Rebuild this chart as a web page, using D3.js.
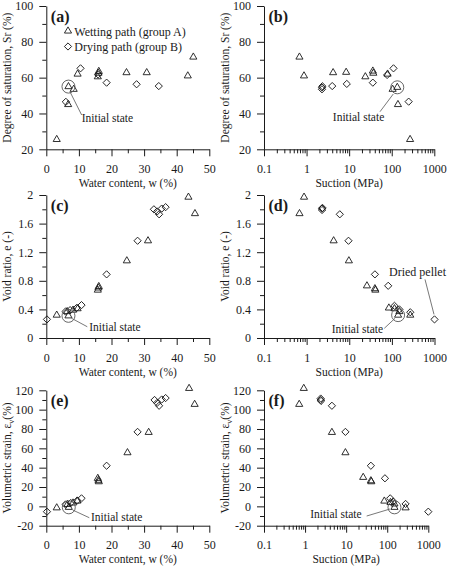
<!DOCTYPE html>
<html>
<head>
<meta charset="utf-8">
<script src="https://cdn.jsdelivr.net/npm/d3@7"></script>
<style>
  body { margin: 0; background: #fff; }
  svg { font-family: "Liberation Serif", "Times New Roman", serif; }
</style>
</head>
<body>
<div id="chart"></div>
<script>
// tick labels
const wTicks = [0, 10, 20, 30, 40, 50];
const suctionTicks = [0.1, 1, 10, 100, 1000];
const srTicks = [20, 40, 60, 80, 100];
const eTicks = [0, 0.4, 0.8, 1.2, 1.6, 2];
const evTicks = [-20, 0, 20, 40, 60, 80, 100, 120];

// (a) water content vs degree of saturation
const aWet = [[3.2, 25.5], [6.7, 45], [6.8, 55], [8.4, 53.5], [9.6, 62], [15.8, 60.5], [16, 62.5], [16.1, 63.5], [24.6, 62.8], [30.8, 62.8], [43.4, 61], [45.1, 71.5]];
const aDry = [[6, 46.5], [10.5, 65.2], [15.9, 61.8], [18.5, 57.2], [27.7, 56.3], [34.5, 55.3]];

// (b) suction vs degree of saturation
const bWet = [[0.68, 71.5], [0.87, 61], [4.2, 62.8], [8.5, 63], [24, 60.5], [36, 63.7], [37, 62.5], [80, 62], [105, 53.5], [135, 54.6], [140, 45], [270, 25.5]];
const bDry = [[2.3, 53.5], [2.3, 54.5], [2.35, 55.2], [4.0, 55.3], [8.8, 56.5], [36, 57.2], [78, 61.5], [110, 65.2], [250, 46.6]];

// (c) water content vs void ratio
const cWet = [[3.2, 0.32], [6.4, 0.37], [6.8, 0.31], [8.2, 0.39], [9.6, 0.41], [15.8, 0.67], [16, 0.70], [16.1, 0.72], [24.7, 1.08], [31.2, 1.36], [43.6, 1.97], [45.6, 1.74]];
const cDry = [[0.2, 0.26], [5.9, 0.37], [7.3, 0.39], [9.3, 0.42], [10.8, 0.46], [18.5, 0.89], [28, 1.36], [33, 1.80], [34, 1.77], [34.6, 1.73], [35.4, 1.81], [36.6, 1.83]];

// (d) suction vs void ratio
const dWet = [[0.68, 1.74], [0.87, 1.97], [4.3, 1.36], [9.8, 1.08], [26, 0.73], [40, 0.69], [41, 0.67], [85, 0.42], [115, 0.41], [150, 0.37], [140, 0.32], [270, 0.32]];
const dDry = [[2.3, 1.79], [2.3, 1.81], [2.35, 1.82], [6.0, 1.73], [9.6, 1.36], [40, 0.89], [82, 0.73], [115, 0.45], [150, 0.40], [270, 0.36], [1000, 0.26]];

// (e) water content vs volumetric strain
const eWet = [[3.2, -1.5], [6.5, 2], [6.9, -1], [8.2, 3.5], [9.5, 5.5], [15.8, 29], [16, 27], [16.1, 25.5], [24.9, 55.5], [31.4, 76.5], [43.8, 122], [45.5, 105.5]];
const eDry = [[0.2, -5.5], [5.9, 2], [7.5, 3.5], [9.5, 6], [10.8, 8.3], [18.5, 42], [28, 77], [33.2, 110], [34, 107], [34.6, 104], [35.4, 110.5], [36.6, 112]];

// (f) suction vs volumetric strain
const fWet = [[0.72, 105.5], [0.93, 122], [4.5, 76.5], [9.6, 55.5], [26, 30], [40, 26.5], [41, 25.5], [85, 5.5], [120, 4], [150, 2.5], [150, -1], [280, -1.5]];
const fDry = [[2.4, 110], [2.4, 111.5], [2.45, 109], [4.5, 104], [9.6, 77], [40, 42], [88, 29], [118, 8.3], [140, 5], [280, 2.5], [1000, -5.5]];

// initial state for each panel, a to f
const initialPoints = [[6.8, 55], [135, 54.6], [6.8, 0.31], [140, 0.32], [6.9, -1], [150, -1]];
const driedPellet = [1000, 0.26];

const ink = "#1a1a1a";
const svg = d3.select("#chart").append("svg")
  .attr("width", 451)
  .attr("height", 566);

const linMinor = (dom, step) => d3.range(dom[0], dom[1] + 1e-9, step);
const logMinor = [];
[0.1, 1, 10, 100].forEach(d => { for (let k = 2; k <= 9; k++) logMinor.push(d * k); });

const panels = [
  { letter: "(a)", left: 46.3, top: 6, w: 163, h: 143.3, log: false, xDom: [0, 50], xTicks: wTicks, xMinor: linMinor([5, 45], 10),
    yDom: [20, 100], yTicks: srTicks, yMinor: linMinor([30, 90], 20), wet: aWet, dry: aDry,
    xLabel: "Water content, w (%)", yLabel: "sr",
    note: { line: [1.5, 5.1, 13.2, 28.4], text: [13.2, 35.1], anchor: "start" } },
  { letter: "(b)", left: 264, top: 6, w: 170.3, h: 143.3, log: true, xDom: [0.1, 1000], xTicks: suctionTicks, xMinor: logMinor,
    yDom: [20, 100], yTicks: srTicks, yMinor: linMinor([30, 90], 20), wet: bWet, dry: bDry,
    xLabel: "Suction (MPa)", yLabel: "sr",
    note: { line: [-4, 6.7, -17.3, 24.4], text: [-13, 33.4], anchor: "end" } },
  { letter: "(c)", left: 46.3, top: 195, w: 163, h: 143, log: false, xDom: [0, 50], xTicks: wTicks, xMinor: linMinor([5, 45], 10),
    yDom: [0, 2], yTicks: eTicks, yMinor: linMinor([0.2, 1.8], 0.4), wet: cWet, dry: cDry,
    xLabel: "Water content, w (%)", yLabel: "e",
    note: { line: [3.2, 2.5, 18.8, 10.9], text: [20.8, 14.9], anchor: "start" } },
  { letter: "(d)", left: 264, top: 195, w: 170.5, h: 143, log: true, xDom: [0.1, 1000], xTicks: suctionTicks, xMinor: logMinor,
    yDom: [0, 2], yTicks: eTicks, yMinor: linMinor([0.2, 1.8], 0.4), wet: dWet, dry: dDry,
    xLabel: "Suction (MPa)", yLabel: "e",
    note: { line: [-3.1, 3.2, -13.8, 13.2], text: [-15, 18.2], anchor: "end" } },
  { letter: "(e)", left: 46.3, top: 390.3, w: 163, h: 135.4, log: false, xDom: [0, 50], xTicks: wTicks, xMinor: linMinor([5, 45], 10),
    yDom: [-20, 120], yTicks: evTicks, yMinor: linMinor([-10, 110], 20), wet: eWet, dry: eDry,
    xLabel: "Water content, w (%)", yLabel: "ev",
    note: { line: [3.9, 2.7, 20.5, 10.4], text: [22.2, 13.7], anchor: "start" } },
  { letter: "(f)", left: 264, top: 390.3, w: 164.3, h: 135.4, log: true, xDom: [0.1, 1000], xTicks: suctionTicks, xMinor: logMinor,
    yDom: [-20, 120], yTicks: evTicks, yMinor: linMinor([-10, 110], 20), wet: fWet, dry: fDry,
    xLabel: "Suction (MPa)", yLabel: "ev",
    note: { line: [-4.5, 1.7, -27.8, 8.7], text: [-32.8, 10.4], anchor: "end" } }
];

const triangle = d3.symbol(d3.symbolTriangle, 22);
const diamond = d3.symbol(d3.symbolSquare, 26);

function styleAxis(a) {
  a.attr("font-family", null).attr("font-size", 12);
  a.selectAll("path, line").attr("stroke", ink);
  a.selectAll("text").attr("fill", ink);
}

function drawPanel(p, i) {
  const g = svg.append("g").attr("transform", `translate(${p.left},${p.top})`);
  const x = (p.log ? d3.scaleLog() : d3.scaleLinear()).domain(p.xDom).range([0, p.w]);
  const y = d3.scaleLinear().domain(p.yDom).range([p.h, 0]);

  // minor ticks
  g.append("g").attr("transform", `translate(0,${p.h})`)
    .call(d3.axisBottom(x).tickValues(p.xMinor).tickSize(4).tickFormat(""))
    .call(a => a.select(".domain").remove())
    .call(styleAxis);
  g.append("g")
    .call(d3.axisLeft(y).tickValues(p.yMinor).tickSize(4).tickFormat(""))
    .call(a => a.select(".domain").remove())
    .call(styleAxis);

  g.append("g").attr("transform", `translate(0,${p.h})`)
    .call(d3.axisBottom(x).tickValues(p.xTicks).tickSize(7).tickSizeOuter(0).tickPadding(8).tickFormat(d => d))
    .call(styleAxis);
  g.append("g")
    .call(d3.axisLeft(y).tickValues(p.yTicks).tickSize(7).tickSizeOuter(0).tickPadding(6).tickFormat(d => d))
    .call(styleAxis);

  // axis titles
  g.append("text")
    .attr("x", p.w / 2)
    .attr("y", p.h + 37.5)
    .attr("text-anchor", "middle")
    .attr("font-size", 11.5)
    .attr("fill", ink)
    .text(p.xLabel);

  const yl = g.append("text")
    .attr("transform", `translate(-35.5,${p.h / 2}) rotate(-90)`)
    .attr("text-anchor", "middle")
    .attr("font-size", 11.5)
    .attr("fill", ink);
  if (p.yLabel === "sr") {
    yl.text("Degree of saturation, Sr (%)");
  } else if (p.yLabel === "e") {
    yl.text("Void ratio, e (-)");
  } else {
    yl.append("tspan").text("Volumetric strain, ε");
    yl.append("tspan").attr("font-size", 8).attr("dy", 3).text("v");
    yl.append("tspan").attr("dy", -3).text("(%)");
  }

  g.append("text")
    .attr("x", 4.5)
    .attr("y", 15.5)
    .attr("font-size", 16)
    .attr("font-weight", "bold")
    .attr("fill", ink)
    .text(p.letter);

  // markers
  g.selectAll(".dry").data(p.dry).join("path")
    .attr("class", "dry")
    .attr("transform", d => `translate(${x(d[0])},${y(d[1])}) rotate(45)`)
    .attr("d", diamond)
    .attr("fill", "none")
    .attr("stroke", ink)
    .attr("stroke-width", 0.9);
  g.selectAll(".wet").data(p.wet).join("path")
    .attr("class", "wet")
    .attr("transform", d => `translate(${x(d[0])},${y(d[1])})`)
    .attr("d", triangle)
    .attr("fill", "none")
    .attr("stroke", ink)
    .attr("stroke-width", 0.9);

  // initial state callout
  const px = x(initialPoints[i][0]), py = y(initialPoints[i][1]);
  g.append("circle")
    .attr("cx", px).attr("cy", py).attr("r", 6.5)
    .attr("fill", "none").attr("stroke", "#555").attr("stroke-width", 0.9);
  const n = p.note;
  g.append("line")
    .attr("x1", px + n.line[0]).attr("y1", py + n.line[1])
    .attr("x2", px + n.line[2]).attr("y2", py + n.line[3])
    .attr("stroke", "#555").attr("stroke-width", 0.8);
  g.append("text")
    .attr("x", px + n.text[0]).attr("y", py + n.text[1])
    .attr("text-anchor", n.anchor)
    .attr("font-size", 11.5)
    .attr("fill", ink)
    .text("Initial state");

  if (p.letter === "(a)") {
    const leg = g.append("g");
    [["Wetting path (group A)", triangle, 0], ["Drying path (group B)", diamond, 45]].forEach((row, k) => {
      leg.append("path")
        .attr("transform", `translate(21.7,${25 + k * 15.5}) rotate(${row[2]})`)
        .attr("d", row[1])
        .attr("fill", "none").attr("stroke", ink).attr("stroke-width", 0.9);
      leg.append("text")
        .attr("x", 28)
        .attr("y", 29.5 + k * 15.5)
        .attr("font-size", 12)
        .attr("fill", ink)
        .text(row[0]);
    });
  }

  if (p.letter === "(d)") {
    const dx = x(driedPellet[0]), dy = y(driedPellet[1]);
    g.append("line")
      .attr("x1", dx - 9.5).attr("y1", dy - 40)
      .attr("x2", dx - 0.5).attr("y2", dy - 5)
      .attr("stroke", "#555").attr("stroke-width", 0.8);
    g.append("text")
      .attr("x", dx - 45.5).attr("y", dy - 43.7)
      .attr("font-size", 12)
      .attr("fill", ink)
      .text("Dried pellet");
  }
}

panels.forEach(drawPanel);
</script>
</body>
</html>
